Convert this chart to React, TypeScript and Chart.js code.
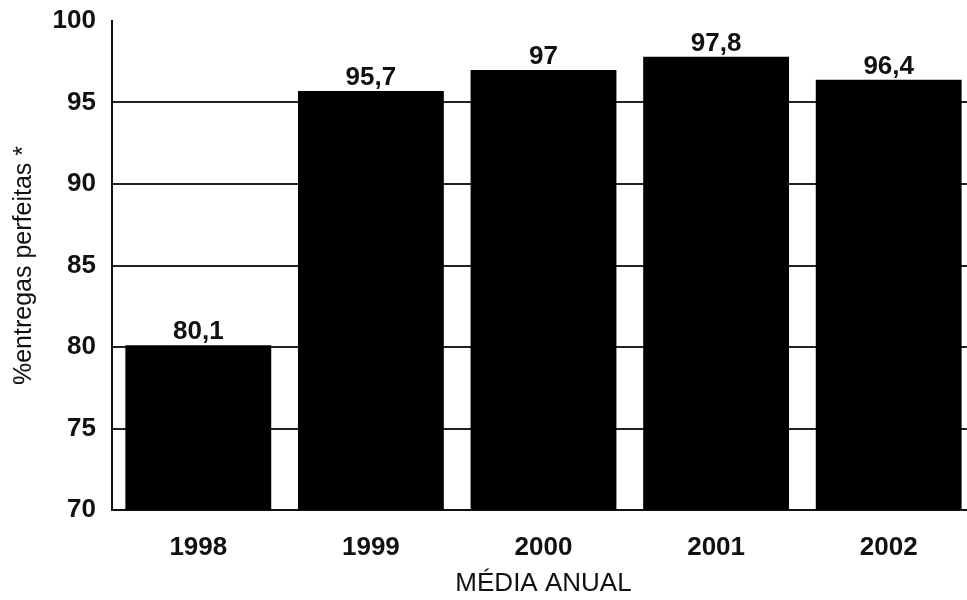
import React, { useEffect, useRef } from "react";
import { Chart, registerables } from "chart.js";

Chart.register(...registerables);

const categories = ["1998", "1999", "2000", "2001", "2002"];
const values = [80.1, 95.7, 97, 97.8, 96.4];
const yMin = 70;
const yMax = 100;
const yStep = 5;
const yTitle = "%entregas perfeitas *";
const xTitle = "MÉDIA ANUAL";

const FONT = "'Liberation Sans', Arial, sans-serif";

const valueLabels = {
  id: "valueLabels",
  afterDatasetsDraw(chart: any) {
    const ctx = chart.ctx;
    const meta = chart.getDatasetMeta(0);
    ctx.save();
    ctx.fillStyle = "#111";
    ctx.font = `bold 26px ${FONT}`;
    ctx.textAlign = "center";
    ctx.textBaseline = "alphabetic";
    meta.data.forEach((bar: any, i: number) => {
      const v = chart.data.datasets[0].data[i];
      ctx.fillText(String(v).replace(".", ","), bar.x, bar.y - 6);
    });
    ctx.restore();
  },
};

export default function App() {
  const ref = useRef<HTMLCanvasElement>(null);
  useEffect(() => {
    if (!ref.current) return;
    const chart = new Chart(ref.current, {
      type: "bar",
      data: {
        labels: categories,
        datasets: [
          {
            data: values,
            backgroundColor: "#000",
            borderWidth: 0,
            categoryPercentage: 1,
            barPercentage: 0.845,
          },
        ],
      },
      options: {
        responsive: false,
        animation: false,
        layout: { padding: { top: 21, right: 5, left: 0, bottom: 0 } },
        plugins: {
          legend: { display: false },
          tooltip: { enabled: false },
        },
        scales: {
          x: {
            grid: { display: false, drawTicks: false },
            border: { display: true, color: "#111", width: 2 },
            ticks: {
              color: "#111",
              font: { family: FONT, size: 26, weight: "bold" },
              padding: 22,
            },
            title: {
              display: true,
              text: xTitle,
              color: "#111",
              font: { family: FONT, size: 26 },
              padding: { top: 0, bottom: 1 },
            },
            afterFit(scale: any) {
              scale.height = 90;
              scale.paddingLeft = 0;
              scale.paddingRight = 0;
            },
          },
          y: {
            min: yMin,
            max: yMax,
            ticks: {
              stepSize: yStep,
              color: "#111",
              font: { family: FONT, size: 26, weight: "bold" },
              padding: 16,
            },
            grid: {
              color: (c: any) =>
                c.tick && c.tick.value === yMax ? "rgba(0,0,0,0)" : "#222",
              lineWidth: 2,
              drawTicks: false,
            },
            border: { display: true, color: "#111", width: 2 },
            title: {
              display: true,
              text: yTitle,
              color: "#111",
              font: { family: FONT, size: 25 },
              padding: { top: 9, bottom: 0 },
            },
            afterFit(scale: any) {
              scale.width = 112;
              scale.paddingTop = 0;
              scale.paddingBottom = 0;
            },
          },
        },
      },
      plugins: [valueLabels],
    });
    return () => chart.destroy();
  }, []);
  return (
    <div
      style={{
        position: "fixed",
        left: 0,
        top: 0,
        width: 967,
        height: 600,
        overflow: "hidden",
        background: "#fff",
      }}
    >
      <canvas ref={ref} width={980} height={600} />
    </div>
  );
}
